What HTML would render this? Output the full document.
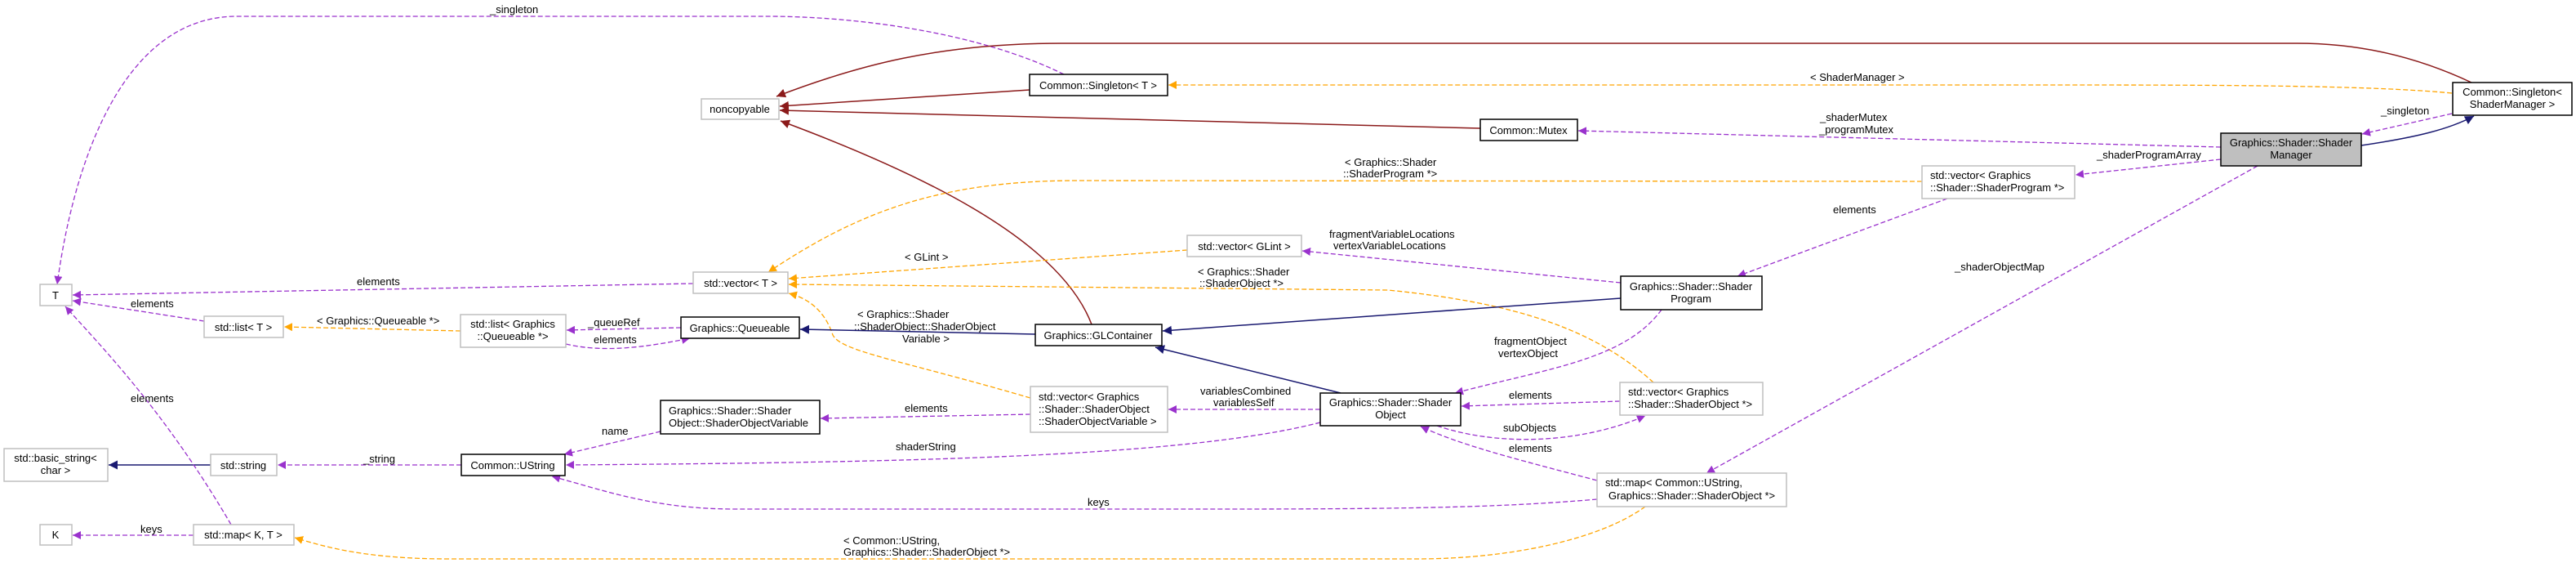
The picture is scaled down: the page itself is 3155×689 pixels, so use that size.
<!DOCTYPE html>
<html><head><meta charset="utf-8"><style>
html,body{margin:0;padding:0;background:#fff;}
svg{display:block;}
text{font-family:"Liberation Sans",sans-serif;font-size:13px;fill:#000;}
.g{fill:#fff;stroke:#bfbfbf;stroke-width:1.5;}
.b{fill:#fff;stroke:#000;stroke-width:1.5;}
.p{fill:none;stroke:#9a32cd;stroke-width:1.3;stroke-dasharray:6,3;}
.o{fill:none;stroke:#ffa500;stroke-width:1.3;stroke-dasharray:6,3;}
.n{fill:none;stroke:#191970;stroke-width:1.5;}
.r{fill:none;stroke:#8b1a1a;stroke-width:1.5;}
</style></head><body>
<svg width="3155" height="689" viewBox="0 0 3155 689" xmlns="http://www.w3.org/2000/svg">
<defs>
<marker id="mp" viewBox="0 0 10 10" refX="10" refY="5" markerWidth="10" markerHeight="10" markerUnits="userSpaceOnUse" orient="auto"><path d="M0,0L10,5L0,10z" fill="#9a32cd"/></marker>
<marker id="mo" viewBox="0 0 10 10" refX="10" refY="5" markerWidth="10" markerHeight="10" markerUnits="userSpaceOnUse" orient="auto"><path d="M0,0L10,5L0,10z" fill="#ffa500"/></marker>
<marker id="mn" viewBox="0 0 10 10" refX="10" refY="5" markerWidth="11" markerHeight="11" markerUnits="userSpaceOnUse" orient="auto"><path d="M0,0L10,5L0,10z" fill="#191970"/></marker>
<marker id="mr" viewBox="0 0 10 10" refX="10" refY="5" markerWidth="11" markerHeight="11" markerUnits="userSpaceOnUse" orient="auto"><path d="M0,0L10,5L0,10z" fill="#8b1a1a"/></marker>
</defs>

<!-- edges -->
<path class="p" d="M1303,91 C1200,40 1050,20 940,20 L290,20 C150,20 90,200 70,348" marker-end="url(#mp)"/>
<text x="600" y="16">_singleton</text>

<path class="r" d="M3027,101 C2950,65 2880,53 2813,53 L1300,53 C1150,53 1050,80 951,118" marker-end="url(#mr)"/>
<path class="r" d="M1261,110 L955,130" marker-end="url(#mr)"/>
<path class="r" d="M1813,157 L955,135" marker-end="url(#mr)"/>
<path class="r" d="M1337,397 C1300,300 1150,220 956,148" marker-end="url(#mr)"/>

<path class="o" d="M3003,114 C2900,104 2700,104 2500,104 L1431,104" marker-end="url(#mo)"/>
<text x="2217" y="99">&lt; ShaderManager &gt;</text>

<path class="p" d="M2720,180 L1933,160" marker-end="url(#mp)"/>
<text x="2229" y="148">_shaderMutex</text>
<text x="2228" y="163">_programMutex</text>

<path class="p" d="M3003,139 L2893,164" marker-end="url(#mp)"/>
<text x="2916" y="140">_singleton</text>
<path class="n" d="M2892,178 C2960,168 3000,158 3030,142" marker-end="url(#mn)"/>

<path class="p" d="M2720,195 L2542,214" marker-end="url(#mp)"/>
<text x="2568" y="194">_shaderProgramArray</text>

<path class="o" d="M2354,222 L1320,221 C1150,221 1050,260 941,333" marker-end="url(#mo)"/>
<text x="1647" y="203">&lt; Graphics::Shader</text>
<text x="1645" y="217">::ShaderProgram *&gt;</text>

<path class="p" d="M2385,243 L2128,338" marker-end="url(#mp)"/>
<text x="2245" y="261">elements</text>

<path class="p" d="M2765,203 L2090,579" marker-end="url(#mp)"/>
<text x="2394" y="331">_shaderObjectMap</text>

<path class="p" d="M1985,346 L1595,307" marker-end="url(#mp)"/>
<text x="1628" y="291">fragmentVariableLocations</text>
<text x="1633" y="305">vertexVariableLocations</text>

<path class="o" d="M1454,306 L966,341" marker-end="url(#mo)"/>
<text x="1108" y="319">&lt; GLint &gt;</text>

<path class="o" d="M2025,468 C1950,400 1850,370 1700,355 L966,348" marker-end="url(#mo)"/>
<text x="1467" y="337">&lt; Graphics::Shader</text>
<text x="1469" y="351">::ShaderObject *&gt;</text>

<path class="o" d="M1262,487 C1100,440 1030,430 1020,410 C1010,380 990,365 966,359" marker-end="url(#mo)"/>
<text x="1050" y="389">&lt; Graphics::Shader</text>
<text x="1046" y="404">::ShaderObject::ShaderObject</text>
<text x="1105" y="419">Variable &gt;</text>

<path class="n" d="M1985,365 L1424,405" marker-end="url(#mn)"/>
<path class="n" d="M1642,481 L1415,425" marker-end="url(#mn)"/>
<path class="n" d="M1268,409 L980,403" marker-end="url(#mn)"/>

<path class="p" d="M2035,379 C1990,440 1900,450 1782,481" marker-end="url(#mp)"/>
<text x="1830" y="422">fragmentObject</text>
<text x="1835" y="437">vertexObject</text>

<path class="p" d="M1984,491 L1790,497" marker-end="url(#mp)"/>
<text x="1848" y="488">elements</text>

<path class="p" d="M1760,521 C1830,545 1930,545 2015,509" marker-end="url(#mp)"/>
<text x="1841" y="528">subObjects</text>

<path class="p" d="M1956,588 C1850,560 1790,545 1740,522" marker-end="url(#mp)"/>
<text x="1848" y="553">elements</text>

<path class="p" d="M1617,501 L1431,501" marker-end="url(#mp)"/>
<text x="1470" y="483">variablesCombined</text>
<text x="1486" y="497">variablesSelf</text>

<path class="p" d="M1262,507 L1005,512" marker-end="url(#mp)"/>
<text x="1108" y="504">elements</text>

<path class="p" d="M1617,517 C1450,560 1100,566 693,569" marker-end="url(#mp)"/>
<text x="1097" y="551">shaderString</text>

<path class="p" d="M1956,611 C1850,620 1750,623 1500,623 L900,623 C800,623 740,600 676,583" marker-end="url(#mp)"/>
<text x="1332" y="619">keys</text>

<path class="o" d="M2015,620 C1960,660 1850,684 1735,684 L550,684 C450,684 400,670 361,658" marker-end="url(#mo)"/>
<text x="1033" y="666">&lt; Common::UString,</text>
<text x="1033" y="680">Graphics::Shader::ShaderObject *&gt;</text>

<path class="p" d="M809,528 L691,556" marker-end="url(#mp)"/>
<text x="737" y="532">name</text>

<path class="p" d="M565,569 L340,569" marker-end="url(#mp)"/>
<text x="445" y="566">_string</text>

<path class="n" d="M258,569 L133,569" marker-end="url(#mn)"/>

<path class="p" d="M237,655 L89,655" marker-end="url(#mp)"/>
<text x="172" y="652">keys</text>

<path class="p" d="M283,642 C200,500 120,420 80,375" marker-end="url(#mp)"/>
<text x="160" y="492">elements</text>

<path class="p" d="M250,393 L89,368" marker-end="url(#mp)"/>
<text x="160" y="376">elements</text>

<path class="p" d="M849,347 L89,361" marker-end="url(#mp)"/>
<text x="437" y="349">elements</text>

<path class="o" d="M564,405 L348,400" marker-end="url(#mo)"/>
<text x="388" y="397">&lt; Graphics::Queueable *&gt;</text>

<path class="p" d="M834,401 L694,404" marker-end="url(#mp)"/>
<text x="720" y="399">_queueRef</text>
<path class="p" d="M693,421 C740,432 790,425 845,414" marker-end="url(#mp)"/>
<text x="727" y="420">elements</text>

<!-- nodes -->
<rect class="g" x="859" y="121" width="95" height="25"/><text x="906" y="138" text-anchor="middle">noncopyable</text>
<rect class="b" x="1261" y="91" width="169" height="26"/><text x="1345" y="109" text-anchor="middle">Common::Singleton&lt; T &gt;</text>
<rect class="b" x="1813" y="146" width="119" height="26"/><text x="1872" y="164" text-anchor="middle">Common::Mutex</text>
<rect class="b" x="3004" y="101" width="146" height="40"/><text x="3077" y="117" text-anchor="middle">Common::Singleton&lt;</text><text x="3077" y="132" text-anchor="middle">ShaderManager &gt;</text>
<rect x="2720" y="163" width="172" height="40" fill="#bfbfbf" stroke="#000" stroke-width="1.5"/><text x="2806" y="179" text-anchor="middle">Graphics::Shader::Shader</text><text x="2806" y="194" text-anchor="middle">Manager</text>
<rect class="g" x="2354" y="203" width="187" height="40"/><text x="2364" y="219">std::vector&lt; Graphics</text><text x="2364" y="234">::Shader::ShaderProgram *&gt;</text>
<rect class="g" x="49" y="348" width="39" height="26"/><text x="68" y="366" text-anchor="middle">T</text>
<rect class="g" x="849" y="333" width="116" height="26"/><text x="907" y="351" text-anchor="middle">std::vector&lt; T &gt;</text>
<rect class="g" x="1454" y="288" width="140" height="26"/><text x="1524" y="306" text-anchor="middle">std::vector&lt; GLint &gt;</text>
<rect class="b" x="1985" y="338" width="173" height="41"/><text x="2071" y="355" text-anchor="middle">Graphics::Shader::Shader</text><text x="2071" y="370" text-anchor="middle">Program</text>
<rect class="g" x="250" y="387" width="97" height="26"/><text x="298" y="405" text-anchor="middle">std::list&lt; T &gt;</text>
<rect class="g" x="564" y="385" width="129" height="40"/><text x="628" y="401" text-anchor="middle">std::list&lt; Graphics</text><text x="628" y="416" text-anchor="middle">::Queueable *&gt;</text>
<rect class="b" x="834" y="388" width="145" height="26"/><text x="906" y="406" text-anchor="middle">Graphics::Queueable</text>
<rect class="b" x="1268" y="397" width="155" height="26"/><text x="1345" y="415" text-anchor="middle">Graphics::GLContainer</text>
<rect class="b" x="809" y="490" width="195" height="41"/><text x="819" y="507">Graphics::Shader::Shader</text><text x="819" y="522">Object::ShaderObjectVariable</text>
<rect class="g" x="1262" y="473" width="168" height="56"/><text x="1272" y="490">std::vector&lt; Graphics</text><text x="1272" y="505">::Shader::ShaderObject</text><text x="1272" y="520">::ShaderObjectVariable &gt;</text>
<rect class="b" x="1617" y="481" width="172" height="40"/><text x="1703" y="497" text-anchor="middle">Graphics::Shader::Shader</text><text x="1703" y="512" text-anchor="middle">Object</text>
<rect class="g" x="1984" y="468" width="175" height="40"/><text x="1994" y="484">std::vector&lt; Graphics</text><text x="1994" y="499">::Shader::ShaderObject *&gt;</text>
<rect class="g" x="1956" y="579" width="232" height="41"/><text x="1966" y="595">std::map&lt; Common::UString,</text><text x="1970" y="611">Graphics::Shader::ShaderObject *&gt;</text>
<rect class="g" x="5" y="549" width="127" height="40"/><text x="68" y="565" text-anchor="middle">std::basic_string&lt;</text><text x="68" y="580" text-anchor="middle">char &gt;</text>
<rect class="g" x="258" y="556" width="81" height="26"/><text x="298" y="574" text-anchor="middle">std::string</text>
<rect class="b" x="565" y="556" width="127" height="26"/><text x="628" y="574" text-anchor="middle">Common::UString</text>
<rect class="g" x="49" y="642" width="39" height="25"/><text x="68" y="659" text-anchor="middle">K</text>
<rect class="g" x="237" y="642" width="123" height="25"/><text x="298" y="659" text-anchor="middle">std::map&lt; K, T &gt;</text>
</svg>
</body></html>
